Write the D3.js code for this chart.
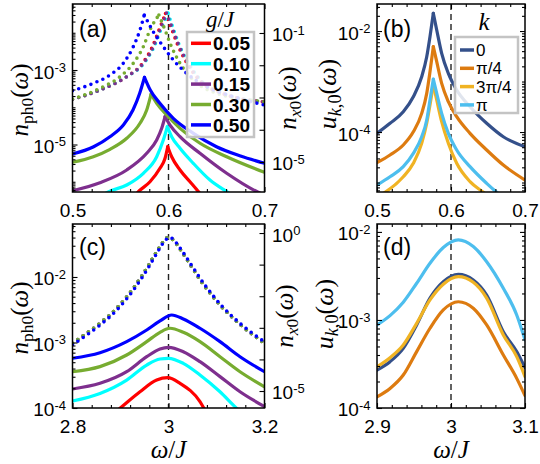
<!DOCTYPE html>
<html><head><meta charset="utf-8">
<script src="https://cdn.jsdelivr.net/npm/d3@7"></script>
<style>body{margin:0;background:#fff}</style>
</head><body>
<script>
// ================= DATA =================
const gLabels = ["0.05","0.10","0.15","0.30","0.50"];
const gColors = ["#ff0000","#00ffff","#7e2f8e","#77ac30","#0000ff"];
const kLabels = ["0","π/4","3π/4","π"];
const kColors = ["#34508a","#dd7b10","#f0b323","#4dbeee"];

const xTicksA = [0.5,0.6,0.7];
const xTicksC = [2.8,3.0,3.2];
const xTicksD = [2.9,3.0,3.1];

// panel (a): n_ph0 (solid, left axis)
const aPh005 = [[0.56,3.0e-7],[0.5679,5.21e-7],[0.5807,1.00e-6],[0.5911,2.30e-6],[0.5964,4.27e-6],[0.5992,8.73e-6],[0.6033,4.70e-6],[0.6120,2.07e-6],[0.6224,1.00e-6],[0.6318,5.21e-7],[0.64,3.0e-7]];
const aPh010 = [[0.52,2.6e-7],[0.5363,5.21e-7],[0.5565,8.18e-7],[0.5738,1.69e-6],[0.5877,4.70e-6],[0.5946,1.32e-5],[0.5988,3.01e-5],[0.6033,1.62e-5],[0.6120,7.91e-6],[0.6258,3.13e-6],[0.6432,1.11e-6],[0.6617,5.21e-7],[0.68,2.6e-7]];
const aPh015 = [[0.5,5.75e-7],[0.5286,9.42e-7],[0.5565,2.07e-6],[0.5773,5.81e-6],[0.5877,1.32e-5],[0.5929,2.72e-5],[0.5964,5.57e-5],[0.6016,3.33e-5],[0.6120,1.62e-5],[0.6328,5.81e-6],[0.6606,1.69e-6],[0.6935,5.21e-7],[0.71,3.5e-7]];
const aPh030 = [[0.5,3.33e-6],[0.5217,4.70e-6],[0.5391,7.43e-6],[0.5565,1.47e-5],[0.5703,3.71e-5],[0.5773,8.43e-5],[0.5818,2.23e-4],[0.5877,1.28e-4],[0.5981,6.19e-5],[0.6120,2.72e-5],[0.6328,1.08e-5],[0.6606,4.70e-6],[0.70,1.79e-6]];
const aPh050 = [[0.50,5.56e-6],[0.522,8.73e-6],[0.539,1.62e-5],[0.553,3.33e-5],[0.563,8.43e-5],[0.570,2.37e-4],[0.575,6.37e-4],[0.581,2.90e-4],[0.591,1.28e-4],[0.605,5.05e-5],[0.626,2.00e-5],[0.650,8.73e-6],[0.675,4.91e-6],[0.70,3.13e-6]];
// panel (a): n_x0 (dotted, right axis)
const aX005 = [[0.5,8.67e-4],[0.5286,1.71e-3],[0.5565,4.42e-3],[0.5730,1.15e-2],[0.5832,3.76e-2],[0.5901,1.24e-1],[0.5969,4.0e-1],[0.6037,1.24e-1],[0.6089,4.80e-2],[0.6193,1.15e-2],[0.6318,3.49e-3],[0.6558,1.35e-3],[0.70,7.24e-4]];
const aX010 = [[0.5,8.67e-4],[0.5286,1.71e-3],[0.5565,4.42e-3],[0.5745,1.15e-2],[0.5850,3.76e-2],[0.5920,1.24e-1],[0.5995,4.17e-1],[0.6055,1.24e-1],[0.6105,4.80e-2],[0.6210,1.15e-2],[0.6335,3.49e-3],[0.6575,1.35e-3],[0.70,7.24e-4]];
const aX015 = [[0.5,8.67e-4],[0.5286,1.71e-3],[0.5565,4.42e-3],[0.5738,1.15e-2],[0.5842,3.76e-2],[0.5911,1.24e-1],[0.5979,4.17e-1],[0.6047,1.24e-1],[0.6099,4.80e-2],[0.6203,1.15e-2],[0.6328,3.49e-3],[0.6568,1.35e-3],[0.70,7.24e-4]];
const aX030 = [[0.5,8.97e-4],[0.5286,1.93e-3],[0.5495,4.42e-3],[0.5633,1.15e-2],[0.5738,3.76e-2],[0.5807,1.24e-1],[0.590,3.61e-1],[0.5964,1.24e-1],[0.6016,4.80e-2],[0.6120,1.15e-2],[0.6258,3.49e-3],[0.6502,1.35e-3],[0.70,7.41e-4]];
const aX050 = [[0.5,1.63e-3],[0.5217,2.75e-3],[0.5391,4.99e-3],[0.5529,1.15e-2],[0.5633,3.76e-2],[0.5703,1.24e-1],[0.5748,3.61e-1],[0.5841,1.10e-1],[0.5946,3.76e-2],[0.6050,1.46e-2],[0.6189,5.62e-3],[0.6398,2.16e-3],[0.6675,1.06e-3],[0.70,5.85e-4]];

// panel (b): u_k,0
const bOmega = [0.5,0.5176,0.5355,0.5491,0.5604,0.5672,0.5716,0.5761,0.5807,0.5874,0.5964,0.6077,0.6257,0.6482,0.6707,0.70];
const bK0   = [9.42e-5,1.49e-4,2.52e-4,5.00e-4,1.24e-3,3.10e-3,7.71e-3,2.24e-2,1.05e-2,3.61e-3,1.45e-3,6.79e-4,3.17e-4,1.49e-4,8.07e-5,5.12e-5];
const bKpi4 = [2.47e-5,3.51e-5,5.53e-5,1.01e-4,2.34e-4,5.83e-4,1.56e-3,4.89e-3,2.47e-3,9.20e-4,3.98e-4,2.01e-4,9.42e-5,4.41e-5,2.22e-5,1.12e-5];
const bK3pi4 = [[0.5,5.2e-6],[0.5108,6.40e-6],[0.5355,1.30e-5],[0.5491,2.40e-5],[0.5604,5.97e-5],[0.5672,1.49e-4],[0.5716,3.43e-4],[0.5761,8.53e-4],[0.5807,4.31e-4],[0.5874,1.60e-4],[0.5964,5.97e-5],[0.6077,2.40e-5],[0.6257,1.04e-5],[0.6437,6.40e-6],[0.66,4.0e-6]];
const bKpi  = [[0.5,8.91e-6],[0.5176,1.30e-5],[0.5355,2.06e-5],[0.5491,3.78e-5],[0.5604,8.07e-5],[0.5672,1.73e-4],[0.5716,4.31e-4],[0.5761,1.11e-3],[0.5807,5.83e-4],[0.5874,2.34e-4],[0.5964,9.42e-5],[0.6077,4.41e-5],[0.6257,2.06e-5],[0.6482,9.63e-6],[0.6618,6.40e-6],[0.68,4.0e-6]];

// panel (c): n_ph0 (solid, left) and n_x0 (dotted, right)
const cPh005 = [[2.85,5.0e-5],[2.899,9.89e-5],[2.9406,1.77e-4],[2.9754,2.67e-4],[2.9983,2.90e-4],[3.024,2.38e-4],[3.0656,1.25e-4],[3.074,9.89e-5],[3.12,5.0e-5]];
const cPh010 = [[2.8,1.28e-4],[2.8573,1.67e-4],[2.9129,2.67e-4],[2.9546,4.53e-4],[2.9823,5.60e-4],[3.0,5.74e-4],[3.0308,4.81e-4],[3.0656,3.19e-4],[3.1073,1.77e-4],[3.142,9.89e-5],[3.2,4.5e-5]];
const cPh015 = [[2.8,1.95e-4],[2.8573,2.38e-4],[2.9129,3.58e-4],[2.9546,6.07e-4],[2.9823,7.96e-4],[3.0,8.45e-4],[3.0308,7.24e-4],[3.0656,5.09e-4],[3.1073,3.01e-4],[3.149,1.77e-4],[3.2,1.05e-4]];
const cPh030 = [[2.8,3.58e-4],[2.8573,4.28e-4],[2.9129,6.44e-4],[2.9546,1.03e-3],[2.9823,1.43e-3],[3.0031,1.65e-3],[3.0308,1.43e-3],[3.0656,1.03e-3],[3.1073,6.07e-4],[3.149,3.58e-4],[3.2,2.11e-4]];
const cPh050 = [[2.8,5.74e-4],[2.8573,6.98e-4],[2.9129,1.03e-3],[2.9546,1.55e-3],[2.9823,2.13e-3],[3.0067,2.63e-3],[3.0308,2.29e-3],[3.0656,1.65e-3],[3.1073,1.03e-3],[3.149,6.07e-4],[3.2,3.58e-4]];
const cX015 = [[2.8,3.23e-4],[2.8296,6.70e-4],[2.8573,1.39e-3],[2.8921,4.14e-3],[2.9267,1.78e-2],[2.9546,7.64e-2],[2.9754,2.56e-1],[2.9892,5.31e-1],[3.0,7.31e-1],[3.010,6.00e-1],[3.024,3.12e-1],[3.0448,1.02e-1],[3.0725,2.38e-2],[3.1073,5.27e-3],[3.149,1.29e-3],[3.2,3.23e-4]];
const cX050 = [[2.8,2.9e-4],[2.8296,5.9e-4],[2.8573,1.22e-3],[2.8921,3.6e-3],[2.9267,1.55e-2],[2.9546,6.6e-2],[2.9754,2.25e-1],[2.9892,4.9e-1],[3.003,7.3e-1],[3.013,5.6e-1],[3.027,2.9e-1],[3.0478,9.6e-2],[3.0755,2.3e-2],[3.1103,5.1e-3],[3.152,1.27e-3],[3.2,3.6e-4]];

// panel (d): u_k,0
const dOmega = [2.9,2.9176,2.9355,2.9536,2.9716,2.9896,3.0099,3.0301,3.0482,3.0707,3.0888,3.1];
const dK0    = [2.70e-4,3.36e-4,4.76e-4,8.77e-4,1.77e-3,2.72e-3,3.30e-3,2.85e-3,1.92e-3,7.36e-4,4.37e-4,2.87e-4];
const dKpi4  = [1.34e-4,1.67e-4,2.37e-4,4.37e-4,8.05e-4,1.30e-3,1.61e-3,1.36e-3,8.77e-4,4.00e-4,2.17e-4,1.38e-4];
const dK3pi4 = [2.94e-4,3.73e-4,5.20e-4,9.16e-4,1.69e-3,2.55e-3,3.10e-3,2.68e-3,1.77e-3,6.76e-4,3.83e-4,2.27e-4];
const dKpi   = [8.77e-4,1.12e-3,1.59e-3,2.61e-3,4.41e-3,6.64e-3,8.11e-3,6.81e-3,4.59e-3,2.29e-3,1.14e-3,5.93e-4];

// ================= DRAWING =================
const SANS = "'Liberation Sans', Arial, Helvetica, sans-serif";
const SERIF = "'Liberation Serif', 'Times New Roman', serif";
const svg = d3.select("body").append("svg").attr("width",540).attr("height",464)
  .style("font-family",SANS);

function logTicks(dom){
  const out=[];
  for(let e=Math.floor(Math.log10(dom[0])); e<=Math.ceil(Math.log10(dom[1])); e++)
    for(let m=1;m<=9;m++){ const v=m*Math.pow(10,e); if(v>=dom[0]*0.999 && v<=dom[1]*1.001) out.push({v,m,e}); }
  return out;
}
function supText(axisG, labelled){
  axisG.selectAll(".tick text").each(function(d){
    const t=d3.select(this); const e=Math.round(Math.log10(d));
    t.text(null).attr("dy","0.42em");
    if(!labelled.includes(e)) return;
    t.append("tspan").text("10");
    t.append("tspan").attr("dy","-0.5em").attr("font-size","13px").text(String(e));
  });
}
function styleAxis(a){ a.select(".domain").remove(); a.attr("font-family",SANS).attr("font-size",19);
  a.selectAll(".tick line").attr("stroke","#000").attr("stroke-width",1.1); a.selectAll(".tick text").attr("fill","#000"); }

function panel(o){
  const {x0,x1,y0,y1}=o.box;
  const sx=d3.scaleLinear().domain(o.xDomain).range([x0,x1]);
  const sy=d3.scaleLog().domain(o.yDomain).range([y1,y0]);
  const g=svg.append("g");
  g.append("clipPath").attr("id","clip"+o.name).append("rect").attr("x",x0).attr("y",y0).attr("width",x1-x0).attr("height",y1-y0);
  g.append("line").attr("x1",sx(o.dash)).attr("x2",sx(o.dash)).attr("y1",y0).attr("y2",y1)
    .attr("stroke","#222").attr("stroke-width",1.4).attr("stroke-dasharray","6,4");
  const plot=g.append("g").attr("clip-path",`url(#clip${o.name})`);
  const fmt=d=>String(Math.round(d*100)/100);
  const xb=g.append("g").attr("transform",`translate(0,${y1})`).call(d3.axisBottom(sx).tickValues(o.xTicks).tickSize(-5).tickPadding(11.5).tickFormat(fmt)); styleAxis(xb);
  const xbm=g.append("g").attr("transform",`translate(0,${y1})`).call(d3.axisBottom(sx).tickValues(o.xMinor).tickSize(-3).tickFormat("")); styleAxis(xbm);
  const xt=g.append("g").attr("transform",`translate(0,${y0})`).call(d3.axisTop(sx).tickValues(o.xTicks).tickSize(-5).tickFormat("")); styleAxis(xt);
  const xtm=g.append("g").attr("transform",`translate(0,${y0})`).call(d3.axisTop(sx).tickValues(o.xMinor).tickSize(-3).tickFormat("")); styleAxis(xtm);
  const lt=logTicks(o.yDomain);
  const major=lt.filter(t=>t.m===1 && o.yLab.includes(t.e)).map(t=>t.v);
  const minor=lt.filter(t=>!(t.m===1 && o.yLab.includes(t.e))).map(t=>t.v);
  const yl=g.append("g").attr("transform",`translate(${x0},0)`).call(d3.axisLeft(sy).tickValues(major).tickSize(-5).tickPadding(6.5)); styleAxis(yl); supText(yl,o.yLab);
  const ylm=g.append("g").attr("transform",`translate(${x0},0)`).call(d3.axisLeft(sy).tickValues(minor).tickSize(-3).tickFormat("")); styleAxis(ylm);
  let syR=null;
  if(o.yDomainR){
    syR=d3.scaleLog().domain(o.yDomainR).range([y1,y0]);
    const dec=logTicks(o.yDomainR).filter(t=>t.m===1).map(t=>t.v);
    const yr=g.append("g").attr("transform",`translate(${x1},0)`).call(d3.axisRight(syR).tickValues(dec).tickSize(-5).tickPadding(7.5)); styleAxis(yr); supText(yr,o.yLabR);
  } else {
    const yr=g.append("g").attr("transform",`translate(${x1},0)`).call(d3.axisRight(sy).tickValues(major).tickSize(-5).tickFormat("")); styleAxis(yr);
    const yrm=g.append("g").attr("transform",`translate(${x1},0)`).call(d3.axisRight(sy).tickValues(minor).tickSize(-3).tickFormat("")); styleAxis(yrm);
  }
  return {g,plot,sx,sy,syR,box:o.box};
}

function curve(P, sy, pts, color, dotted, cusp){
  const line=d3.line().x(d=>P.sx(d[0])).y(d=>sy(d[1])).curve(d3.curveMonotoneX);
  let segs=[pts];
  if(cusp){ const i=d3.maxIndex(pts,d=>d[1]); segs=[pts.slice(0,i+1),pts.slice(i)]; }
  segs.forEach(s=>{
    const p=P.plot.append("path").datum(s).attr("d",line).attr("fill","none").attr("stroke",color)
      .attr("stroke-width",dotted?3.6:3.2).attr("stroke-linecap","round").attr("stroke-linejoin","round");
    if(dotted) p.attr("stroke-dasharray","0 6.5");
  });
}
function frame(P){ const b=P.box; P.g.append("rect").attr("x",b.x0).attr("y",b.y0).attr("width",b.x1-b.x0).attr("height",b.y1-b.y0).attr("fill","none").attr("stroke","#000").attr("stroke-width",1.5); }
function mathText(x,y,parts,size,rotate){
  const t=svg.append("text").attr("font-family",SERIF).attr("font-size",size).attr("text-anchor","middle")
    .attr("transform",`translate(${x},${y})`+(rotate?" rotate(-90)":""));
  let shift=0;
  parts.forEach(([s,it,sub])=>{
    const ts=t.append("tspan").text(s).attr("font-style",it?"italic":"normal");
    const target=sub?5:0; if(target!==shift){ ts.attr("dy",target-shift); shift=target; }
    if(sub) ts.attr("font-size",size*0.7);
  });
  return t;
}
function plabel(x,y,s){ svg.append("text").attr("x",x).attr("y",y).attr("font-size",23).attr("font-family",SANS).text(s); }

const boxA={x0:72.5,x1:264.5,y0:4,y1:192}, boxB={x0:377,x1:525,y0:4,y1:192};
const boxC={x0:72.5,x1:264.5,y0:224,y1:408}, boxD={x0:377,x1:525,y0:224,y1:408};

// ---- (a)
const A=panel({name:"A",box:boxA,xDomain:[0.5,0.7],xTicks:xTicksA,xMinor:[0.52,0.54,0.56,0.58,0.62,0.64,0.66,0.68],
  yDomain:[5.31e-7,0.0592],yLab:[-3,-5],yDomainR:[1.175e-6,0.792],yLabR:[-1,-5],dash:0.6});
[aX005,aX010,aX015,aX030,aX050].forEach((d,i)=>curve(A,A.syR,d,gColors[i],true,true));
[aPh005,aPh010,aPh015,aPh030,aPh050].forEach((d,i)=>curve(A,A.sy,d,gColors[i],false,true));
frame(A);
// ---- (b)
const B=panel({name:"B",box:boxB,xDomain:[0.5,0.7],xTicks:xTicksA,xMinor:[0.52,0.54,0.56,0.58,0.62,0.64,0.66,0.68],
  yDomain:[6.49e-6,0.0343],yLab:[-2,-4],dash:0.6});
[bOmega.map((x,i)=>[x,bK0[i]]), bOmega.map((x,i)=>[x,bKpi4[i]]), bK3pi4, bKpi].forEach((d,i)=>curve(B,B.sy,d,kColors[i],false,true));
frame(B);
// ---- (c)
const C=panel({name:"C",box:boxC,xDomain:[2.8,3.2],xTicks:xTicksC,xMinor:[2.84,2.88,2.92,2.96,3.04,3.08,3.12,3.16],
  yDomain:[1e-4,0.0644],yLab:[-2,-3,-4],yDomainR:[2.90e-6,1.93],yLabR:[0,-5],dash:3.0});
[cX015,cX015,cX015,cX015,cX050].forEach((d,i)=>curve(C,C.syR,d,gColors[i],true,false));
[cPh005,cPh010,cPh015,cPh030,cPh050].forEach((d,i)=>curve(C,C.sy,d,gColors[i],false,false));
frame(C);
// ---- (d)
const D=panel({name:"D",box:boxD,xDomain:[2.9,3.1],xTicks:xTicksD,xMinor:[2.92,2.94,2.96,2.98,3.02,3.04,3.06,3.08],
  yDomain:[1e-4,0.0123],yLab:[-2,-3,-4],dash:3.0});
[dK0,dKpi4,dK3pi4,dKpi].forEach((arr,i)=>curve(D,D.sy,dOmega.map((x,j)=>[x,arr[j]]),kColors[i],false,false));
frame(D);

// ---- legends
const la=svg.append("g");
la.append("rect").attr("x",187).attr("y",32).attr("width",67).attr("height",105).attr("fill","#fff").attr("fill-opacity",0.85)
  .attr("stroke","#c4c4c4").attr("stroke-width",2.5);
gLabels.forEach((s,i)=>{ const cy=43.3+i*20.4;
  la.append("line").attr("x1",191).attr("x2",211).attr("y1",cy).attr("y2",cy).attr("stroke",gColors[i]).attr("stroke-width",3.5);
  la.append("text").attr("x",213).attr("y",cy+7).attr("font-size",19).attr("font-weight","bold").text(s); });
mathText(220,27,[["g",1,0],["/",0,0],["J",1,0]],23,false);

const lb=svg.append("g");
lb.append("rect").attr("x",455).attr("y",37).attr("width",63).attr("height",76).attr("fill","#fff").attr("fill-opacity",0.85)
  .attr("stroke","#c4c4c4").attr("stroke-width",2.5);
kLabels.forEach((s,i)=>{ const cy=50+i*18.3;
  lb.append("line").attr("x1",460).attr("x2",474).attr("y1",cy).attr("y2",cy).attr("stroke",kColors[i]).attr("stroke-width",3.5);
  lb.append("text").attr("x",476).attr("y",cy+6).attr("font-size",17).text(s); });
mathText(484,30,[["k",1,0]],25,false);

// ---- panel labels
plabel(79,37,"(a)"); plabel(383,37,"(b)"); plabel(79,255,"(c)"); plabel(383,255,"(d)");

// ---- axis titles
const nph=[["n",1,0],["ph0",0,1],["(",0,0],["ω",1,0],[")",0,0]];
const nx=[["n",1,0],["x",1,1],["0",0,1],["(",0,0],["ω",1,0],[")",0,0]];
const uk=[["u",1,0],["k",1,1],[",0",0,1],["(",0,0],["ω",1,0],[")",0,0]];
mathText(28,100,nph,25,true); mathText(28,318,nph,25,true);
mathText(296,98,nx,25,true); mathText(293,316,nx,25,true);
mathText(336,94,uk,26,true); mathText(333,314,uk,26,true);
const wj=[["ω",1,0],["/",0,0],["J",1,0]];
mathText(168.5,458,wj,25,false); mathText(451,458,wj,25,false);
</script>
</body></html>
